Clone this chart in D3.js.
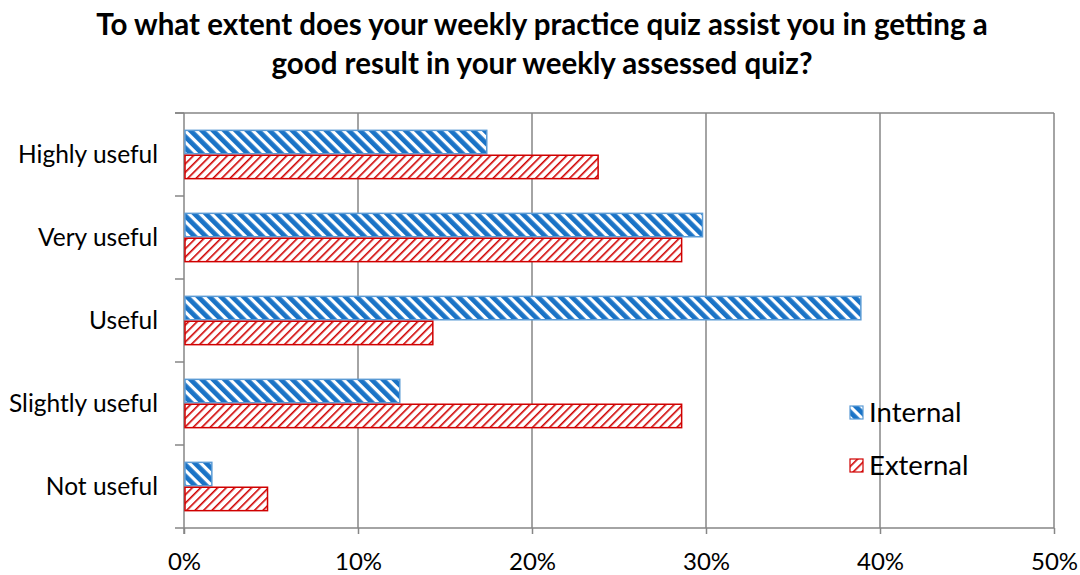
<!DOCTYPE html>
<html>
<head>
<meta charset="utf-8">
<script src="https://cdn.jsdelivr.net/npm/d3@7"></script>
<style>
  body { margin: 0; background: #fff; }
  svg { display: block; font-family: Lato, "Open Sans", sans-serif; }
</style>
</head>
<body>
<svg id="chart" width="1080" height="575"></svg>
<script>
// survey answers, % of respondents
const categories = ["Highly useful", "Very useful", "Useful", "Slightly useful", "Not useful"];
const seriesNames = ["Internal", "External"];
const internalValues = [17.4, 29.8, 38.9, 12.4, 1.6];
const externalValues = [23.8, 28.6, 14.3, 28.6, 4.8];
const xTicks = [0, 10, 20, 30, 40, 50];

const svg = d3.select("#chart");
const margin = { left: 184, right: 26, top: 113, bottom: 47 };
const width = 1080, height = 575;
const plotW = width - margin.left - margin.right;
const plotH = height - margin.top - margin.bottom;

// hatch patterns (blue wide "\" stripes, red thin "/" stripes)
const defs = svg.append("defs");
const pBlue = defs.append("pattern")
  .attr("id", "hatch-blue")
  .attr("patternUnits", "userSpaceOnUse")
  .attr("width", 8).attr("height", 8)
  .attr("patternTransform", "rotate(-45)");
pBlue.append("rect").attr("width", 8).attr("height", 8).attr("fill", "#fff");
pBlue.append("rect").attr("width", 4.8).attr("height", 8).attr("fill", "#1a73c6");

const pRed = defs.append("pattern")
  .attr("id", "hatch-red")
  .attr("patternUnits", "userSpaceOnUse")
  .attr("width", 6).attr("height", 6)
  .attr("patternTransform", "rotate(45)");
pRed.append("rect").attr("width", 6).attr("height", 6).attr("fill", "#fff");
pRed.append("rect").attr("width", 1.6).attr("height", 6).attr("fill", "#d00000");

const x = d3.scaleLinear().domain([0, 50]).range([margin.left, margin.left + plotW]);
const y = d3.scaleBand().domain(categories)
  .range([margin.top, margin.top + plotH])
  .paddingInner(0.4).paddingOuter(0.2);
const ySub = d3.scaleBand().domain(seriesNames).range([0, y.bandwidth()]);

// title
const title = svg.append("text")
  .attr("text-anchor", "middle")
  .attr("font-weight", "bold")
  .attr("font-size", 29.5)
  .attr("fill", "#000");
title.append("tspan").attr("x", 542).attr("y", 35)
  .text("To what extent does your weekly practice quiz assist you in getting a");
title.append("tspan").attr("x", 542).attr("y", 74)
  .text("good result in your weekly assessed quiz?");

// gridlines
svg.append("g")
  .selectAll("line")
  .data(xTicks.slice(1))
  .join("line")
  .attr("x1", d => x(d)).attr("x2", d => x(d))
  .attr("y1", margin.top).attr("y2", margin.top + plotH)
  .attr("stroke", "#868686")
  .attr("stroke-width", 1.5);

// top border
svg.append("line")
  .attr("x1", margin.left - 9).attr("x2", x(50))
  .attr("y1", margin.top).attr("y2", margin.top)
  .attr("stroke", "#868686").attr("stroke-width", 1.5);

// x axis
const xAxis = svg.append("g")
  .attr("transform", `translate(0,${margin.top + plotH})`)
  .call(d3.axisBottom(x).tickValues(xTicks).tickFormat(d => d + "%").tickSize(6).tickPadding(19));
xAxis.select(".domain").attr("stroke", "#868686").attr("stroke-width", 1.5)
  .attr("d", `M${margin.left},0H${x(50)}`);
xAxis.selectAll(".tick line").attr("stroke", "#868686").attr("stroke-width", 1.5);
xAxis.selectAll(".tick text")
  .attr("font-size", 24).attr("fill", "#000")
  .attr("font-family", "Lato, 'Open Sans', sans-serif");

// y axis line + category boundary ticks
svg.append("line")
  .attr("x1", margin.left).attr("x2", margin.left)
  .attr("y1", margin.top).attr("y2", margin.top + plotH + 6)
  .attr("stroke", "#868686").attr("stroke-width", 1.5);
const bounds = d3.range(categories.length + 1).map(i => margin.top + i * y.step());
svg.append("g")
  .selectAll("line")
  .data(bounds)
  .join("line")
  .attr("x1", margin.left - 9).attr("x2", margin.left)
  .attr("y1", d => d).attr("y2", d => d)
  .attr("stroke", "#868686").attr("stroke-width", 1.5);

svg.append("g")
  .selectAll("text")
  .data(categories)
  .join("text")
  .attr("x", 158)
  .attr("y", d => y(d) + y.bandwidth() / 2)
  .attr("dy", "0.35em")
  .attr("text-anchor", "end")
  .attr("font-size", 24.5)
  .attr("fill", "#000")
  .text(d => d);

// bars
const rows = categories.map((c, i) => ({ cat: c, Internal: internalValues[i], External: externalValues[i] }));
const style = {
  Internal: { fill: "url(#hatch-blue)", stroke: "#5b9bd5" },
  External: { fill: "url(#hatch-red)", stroke: "#d00000" }
};
seriesNames.forEach(s => {
  svg.append("g")
    .selectAll("rect")
    .data(rows)
    .join("rect")
    .attr("x", x(0) + 1)
    .attr("y", d => y(d.cat) + ySub(s) + 0.75)
    .attr("width", d => x(d[s]) - x(0) - 1)
    .attr("height", ySub.bandwidth() - 1.5)
    .attr("fill", style[s].fill)
    .attr("stroke", style[s].stroke)
    .attr("stroke-width", 1.5);
});

// legend
const legend = svg.append("g").attr("transform", "translate(850,404)");
seriesNames.forEach((s, i) => {
  const g = legend.append("g").attr("transform", `translate(0,${i * 53})`);
  g.append("rect")
    .attr("x", 0).attr("y", 2).attr("width", 13).attr("height", 13)
    .attr("fill", style[s].fill)
    .attr("stroke", style[s].stroke).attr("stroke-width", 1.2);
  g.append("text")
    .attr("x", 19).attr("y", 18)
    .attr("font-size", 27.5)
    .attr("fill", "#000")
    .text(s);
});
</script>
</body>
</html>
